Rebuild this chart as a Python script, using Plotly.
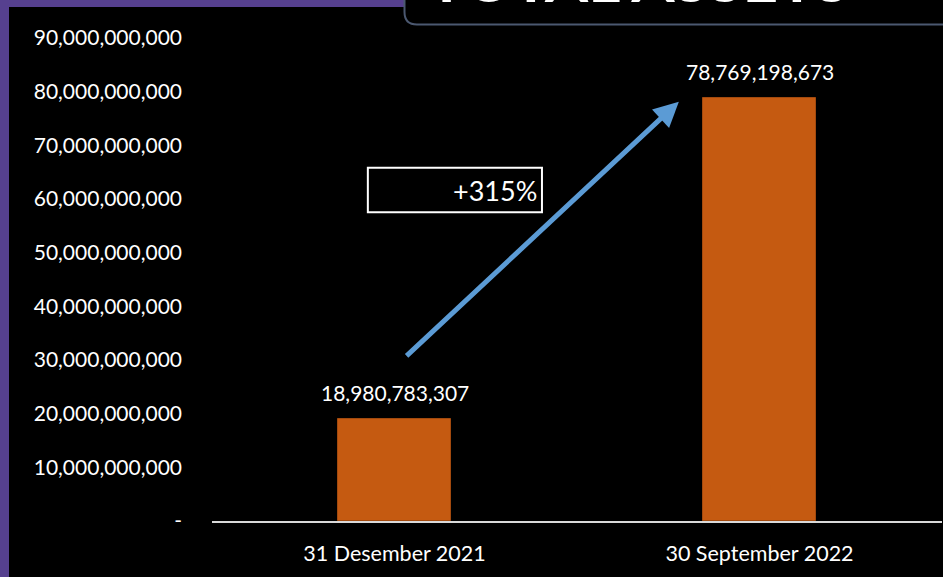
import plotly.graph_objects as go

# ---- data ----
categories = ["31 Desember 2021", "30 September 2022"]
values = [18980783307, 78769198673]
value_labels = ["18,980,783,307", "78,769,198,673"]
tick_vals = [0, 10e9, 20e9, 30e9, 40e9, 50e9, 60e9, 70e9, 80e9, 90e9]
tick_text = ["-", "10,000,000,000", "20,000,000,000", "30,000,000,000", "40,000,000,000",
             "50,000,000,000", "60,000,000,000", "70,000,000,000", "80,000,000,000",
             "90,000,000,000"]
growth = (values[1] / values[0] - 1) * 100
growth_label = f"+{growth:.0f}%"
title_text = "TOTAL ASSETS"

W, H = 943, 577
ML, MR, MT, MB = 212, 1, 37, 56
PW, PH = W - ML - MR, H - MT - MB

def px(x):  # pixel x -> paper
    return (x - ML) / PW

def py(y):  # pixel y -> paper
    return (H - MB - y) / PH

FONT = "Lato"
WHITE = "#ffffff"
PURPLE = "#56408f"

fig = go.Figure()
fig.add_trace(go.Bar(
    x=categories, y=values,
    marker=dict(color="#c55a11", line=dict(color="#a34a0e", width=1)),
    width=0.307, hoverinfo="skip",
))

shapes = [
    # slide background strips
    dict(type="rect", xref="paper", yref="paper", x0=px(0), x1=px(9), y0=py(H), y1=py(0),
         fillcolor=PURPLE, line_width=0, layer="below"),
    dict(type="rect", xref="paper", yref="paper", x0=px(0), x1=px(404), y0=py(7), y1=py(0),
         fillcolor=PURPLE, line_width=0, layer="below"),
    # title box (rounded bottom-left corner)
    dict(type="path", xref="paper", yref="paper",
         path=(f"M {px(404.5)} {py(-5)} L {px(404.5)} {py(12)} "
               f"Q {px(404.5)} {py(24.5)} {px(417)} {py(24.5)} L {px(945)} {py(24.5)}"),
         line=dict(color="#4b5870", width=2)),
    # growth box
    dict(type="rect", xref="x", yref="y", x0=-0.073, x1=0.404, y0=57.5e9, y1=65.8e9,
         line=dict(color=WHITE, width=2), fillcolor="rgba(0,0,0,0)"),
]

annotations = []
for c, v, t in zip(categories, values, value_labels):
    annotations.append(dict(x=c, y=v, text=t, showarrow=False, yshift=27,
                            font=dict(family=FONT, size=21, color=WHITE)))
annotations.append(dict(x=0.396, y=61.6e9, xref="x", yref="y", text=growth_label,
                        showarrow=False, xanchor="right",
                        font=dict(family=FONT, size=27, color=WHITE)))
# arrow
annotations.append(dict(x=0.779, y=78.1e9, ax=0.029, ay=30.5e9, xref="x", yref="y",
                        axref="x", ayref="y", text="", showarrow=True,
                        arrowhead=2, arrowsize=1.0, arrowwidth=5, arrowcolor="#5b9bd5"))
# title, mostly cut off at the top (as in the source slide)
annotations.append(dict(x=px(638), y=py(17), xref="paper", yref="paper", text=f"<b>{title_text}</b>",
                        showarrow=False, xanchor="center", yanchor="bottom",
                        font=dict(family=FONT, size=62, color=WHITE)))

fig.update_layout(
    width=W, height=H,
    margin=dict(l=ML, r=MR, t=MT, b=MB, pad=0),
    paper_bgcolor="#000000", plot_bgcolor="#000000",
    showlegend=False, bargap=0,
    shapes=shapes, annotations=annotations,
    font=dict(family=FONT, color=WHITE),
    xaxis=dict(type="category", range=[-0.5, 1.5], showline=True, linecolor="#d9d9d9",
               linewidth=2, showgrid=False, zeroline=False, ticks="",
               tickfont=dict(family=FONT, size=21.5, color=WHITE), ticklabelstandoff=12),
    yaxis=dict(range=[0, 90.15e9], tickvals=tick_vals, ticktext=tick_text, showgrid=False,
               zeroline=False, showline=False, ticks="",
               tickfont=dict(family=FONT, size=21, color=WHITE), ticklabelstandoff=29),
)

fig.write_html("out.html")
